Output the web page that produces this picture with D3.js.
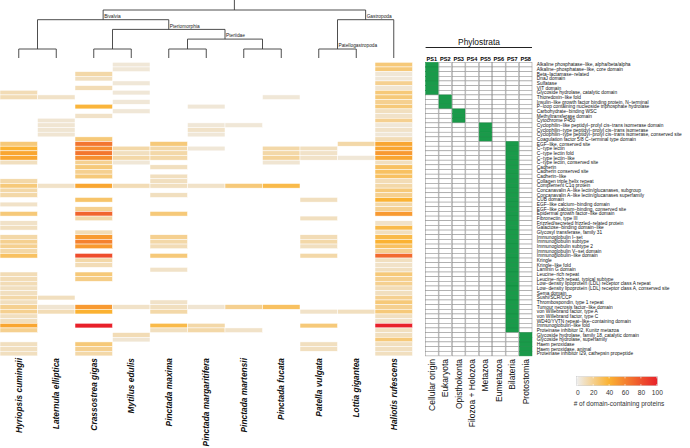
<!DOCTYPE html>
<html><head><meta charset="utf-8">
<script src="https://cdn.jsdelivr.net/npm/d3@7"></script>
<style>body{margin:0;background:#fff}svg{display:block;font-family:"Liberation Sans",Arial,sans-serif}</style>
</head><body>
<script>
const species = ["Hyriopsis cumingii","Laternula elliptica","Crassostrea gigas","Mytilus edulis","Pinctada maxima","Pinctada margaritifera","Pinctada martensii","Pinctada fucata","Patella vulgata","Lottia gigantea","Haliotis rufescens"];

const treeData = {name:"", children:[
  {name:"Bivalvia", children:[
    {name:"", children:[{name:"Hyriopsis cumingii"},{name:"Laternula elliptica"}]},
    {name:"Pteriomorphia", children:[
      {name:"", children:[{name:"Crassostrea gigas"},{name:"Mytilus edulis"}]},
      {name:"Pteriidae", children:[
        {name:"", children:[{name:"Pinctada maxima"},{name:"Pinctada margaritifera"}]},
        {name:"", children:[{name:"Pinctada martensii"},{name:"Pinctada fucata"}]}
      ]}
    ]}
  ]},
  {name:"Gastropoda", children:[
    {name:"Patellogastropoda", children:[{name:"Patella vulgata"},{name:"Lottia gigantea"}]},
    {name:"Haliotis rufescens"}
  ]}
]};

const domains = [
"Alkaline phosphatase−like, alpha/beta/alpha",
"Alkaline−phosphatase−like, core domain",
"Beta−lactamase−related",
"DnaJ domain",
"Sulfatase",
"VIT domain",
"Glycoside hydrolase, catalytic domain",
"Thioredoxin−like fold",
"Insulin−like growth factor binding protein, N−terminal",
"P−loop containing nucleoside triphosphate hydrolase",
"Carbohydrate−binding WSC",
"Methyltransferase domain",
"Cytochrome P450",
"Cyclophilin−like peptidyl−prolyl cis−trans isomerase domain",
"Cyclophilin−type peptidyl−prolyl cis−trans isomerase",
"Cyclophilin−type peptidyl−prolyl cis−trans isomerase, conserved site",
"Coagulation factor 5/8 C−terminal type domain",
"EGF−like, conserved site",
"C−type lectin",
"C−type lectin fold",
"C−type lectin−like",
"C−type lectin, conserved site",
"Cadherin",
"Cadherin conserved site",
"Cadherin−like",
"Collagen triple helix repeat",
"Complement C1q protein",
"Concanavalin A−like lectin/glucanases, subgroup",
"Concanavalin A−like lectin/glucanases superfamily",
"CUB domain",
"EGF−like calcium−binding domain",
"EGF−like calcium−binding, conserved site",
"Epidermal growth factor−like domain",
"Fibronectin, type III",
"Frizzled/secreted frizzled−related protein",
"Galactose−binding domain−like",
"Glycosyl transferase, family 31",
"Immunoglobulin I−set",
"Immunoglobulin subtype",
"Immunoglobulin subtype 2",
"Immunoglobulin V−set domain",
"Immunoglobulin−like domain",
"Kringle",
"Kringle−like fold",
"Laminin G domain",
"Leucine−rich repeat",
"Leucine−rich repeat, typical subtype",
"Low−density lipoprotein (LDL) receptor class A repeat",
"Low−density lipoprotein (LDL) receptor class A, conserved site",
"Sema domain",
"Sushi/SCR/CCP",
"Thrombospondin, type 1 repeat",
"Tumour necrosis factor−like domain",
"von Willebrand factor, type A",
"von Willebrand factor, type C",
"WD40/YVTN repeat−like−containing domain",
"Immunoglobulin−like fold",
"Proteinase inhibitor I2, Kunitz metazoa",
"Glycoside hydrolase, family 18, catalytic domain",
"Glycoside hydrolase, superfamily",
"Haem peroxidase",
"Haem peroxidase, animal",
"Proteinase inhibitor I29, cathepsin propeptide"];

const psCodes = ["PS1","PS2","PS3","PS4","PS5","PS6","PS7","PS8"];
const phylostrata = ["Cellular origin","Eukaryota","Opisthokonta","Filozoa + Holozoa","Metazoa","Eumetazoa","Bilateria","Protostomia"];

// phylostratum (PS code) of each domain row
const domainPS = ["PS1","PS1","PS1","PS1","PS1","PS1","PS1",
"PS2","PS2","PS2","PS3","PS3","PS3","PS5","PS5","PS5","PS5",
"PS7","PS7","PS7","PS7","PS7","PS7","PS7","PS7","PS7","PS7",
"PS7","PS7","PS7","PS7","PS7","PS7","PS7","PS7","PS7","PS7",
"PS7","PS7","PS7","PS7","PS7","PS7","PS7","PS7","PS7","PS7",
"PS7","PS7","PS7","PS7","PS7","PS7","PS7","PS7","PS7","PS7","PS7",
"PS8","PS8","PS8","PS8","PS8"];

// number of domain-containing proteins; one row per domain, columns in species order
const counts = [
[0,0,0,5,0,0,0,0,0,0,25],
[0,0,0,5,0,0,0,0,0,0,25],
[0,0,15,0,0,0,0,0,0,0,5],
[0,0,10,0,0,0,0,0,0,0,5],
[0,0,0,5,0,0,0,0,0,0,20],
[0,0,12,0,0,0,0,0,0,0,6],
[12,0,0,5,0,0,0,0,0,0,25],
[12,8,0,0,0,0,0,5,0,0,25],
[0,0,0,5,0,0,0,0,0,0,20],
[0,0,38,0,0,5,0,0,0,0,25],
[0,0,0,5,0,0,0,0,0,0,10],
[0,0,8,0,0,0,0,0,0,0,8],
[0,6,0,0,0,0,0,0,0,0,20],
[0,6,0,0,0,5,5,0,0,0,5],
[0,6,0,0,0,8,0,0,0,0,8],
[0,6,0,0,0,5,0,0,0,0,5],
[0,0,25,0,0,0,0,0,0,0,12],
[25,0,65,0,25,0,0,0,0,15,45],
[40,0,55,15,15,5,0,15,10,0,45],
[45,0,65,10,15,0,0,15,8,0,50],
[45,0,55,15,15,0,0,18,8,5,45],
[10,0,20,5,0,0,0,6,0,0,10],
[0,0,25,0,10,0,0,0,0,0,30],
[0,0,20,0,0,0,0,0,0,0,30],
[0,0,25,0,10,0,0,0,0,0,30],
[15,0,0,0,10,0,0,0,0,0,12],
[25,8,45,12,10,8,25,35,0,0,15],
[15,0,0,0,0,0,0,0,0,0,25],
[15,0,0,0,10,0,0,0,0,0,20],
[0,0,28,0,0,0,0,0,10,0,40],
[8,0,0,0,0,0,0,0,0,0,15],
[0,0,20,0,0,0,0,0,0,0,20],
[25,0,72,0,25,0,0,0,0,0,50],
[0,0,15,0,0,0,0,0,10,0,0],
[8,0,0,0,0,0,0,0,0,0,8],
[10,0,0,0,0,0,0,0,0,0,35],
[0,0,12,0,0,0,0,0,0,0,10],
[15,0,50,0,20,0,0,0,12,0,35],
[20,0,60,0,15,0,0,0,15,0,40],
[20,0,50,0,12,0,0,0,10,0,30],
[15,0,0,0,0,0,0,0,0,0,20],
[30,0,82,0,25,0,0,0,15,0,70],
[0,0,15,0,0,0,0,0,0,0,10],
[0,0,12,0,0,0,0,0,0,0,8],
[0,0,0,0,8,0,0,0,0,0,10],
[12,0,25,0,0,0,0,0,0,0,25],
[12,0,22,0,0,0,0,0,0,0,20],
[12,0,0,0,0,0,0,0,0,0,20],
[10,0,0,0,0,0,0,0,0,0,12],
[10,0,0,0,0,0,0,0,0,0,10],
[15,10,0,0,0,0,0,0,0,0,20],
[10,0,0,0,8,0,0,0,0,0,25],
[20,6,50,8,10,6,20,30,0,0,20],
[20,12,40,0,15,0,0,0,8,10,25],
[10,0,0,0,0,0,0,0,0,0,10],
[10,0,0,0,0,0,0,0,0,0,8],
[45,0,100,0,35,15,0,0,25,0,100],
[20,0,0,0,10,15,8,0,0,0,10],
[0,0,0,12,0,0,0,0,0,0,10],
[0,0,0,6,0,0,0,0,0,0,25],
[10,0,25,0,0,0,0,0,10,0,10],
[10,0,20,0,0,0,0,0,10,0,10],
[10,0,15,0,0,0,0,0,0,0,10]];

const legendTicks = [0,20,40,60,80,100];
const legendTitle = "# of domain-containing proteins";
const panelTitle = "Phylostrata";

// ---------------- drawing ----------------
const W = 690, H = 448;
const svg = d3.select("body").append("svg").attr("width", W).attr("height", H);

const x = d3.scaleBand().domain(species).range([0, 412.5]);
const y = d3.scaleBand().domain(domains).range([62.3, 355.9]);
const color = d3.scaleLinear().domain([0, 40, 100]).range(["#eeeeee", "#fbb232", "#e8212a"]).clamp(true);

// heatmap
const cells = [];
counts.forEach((row, i) => row.forEach((v, j) => { if (v > 0) cells.push({d: domains[i], s: species[j], v}); }));
svg.append("g").selectAll("rect").data(cells).join("rect")
  .attr("x", d => x(d.s)).attr("y", d => y(d.d))
  .attr("width", x.bandwidth()).attr("height", y.bandwidth())
  .attr("fill", d => color(d.v)).attr("stroke", "#fff").attr("stroke-width", 0.5);

// tree
const root = d3.hierarchy(treeData);
const leafY = 58;
root.eachAfter(n => {
  if (!n.children) { n.px = x(n.data.name) + x.bandwidth() / 2; }
  else { n.px = (n.children[0].px + n.children[n.children.length - 1].px) / 2; }
});
root.each(n => {
  if (!n.children) n.py = leafY;
  else if (n.depth === 0) n.py = 10;
  else if (n.children.every(c => !c.children)) n.py = 49;
  else n.py = 10 + n.depth * 9.7;
});
const tg = svg.append("g").attr("stroke", "#3a3a3a").attr("stroke-width", 0.9).attr("fill", "none");
tg.append("line").attr("x1", root.px).attr("x2", root.px).attr("y1", 0).attr("y2", root.py);
root.descendants().forEach(n => {
  if (n.children) {
    tg.append("line").attr("x1", n.children[0].px).attr("x2", n.children[n.children.length - 1].px)
      .attr("y1", n.py).attr("y2", n.py);
  }
  if (n.parent) {
    tg.append("line").attr("x1", n.px).attr("x2", n.px).attr("y1", n.parent.py).attr("y2", n.py);
  }
});
svg.append("g").selectAll("text").data(root.descendants().filter(n => n.children && n.data.name)).join("text")
  .attr("x", n => n.px + 1).attr("y", n => n.py - 1.8)
  .attr("font-size", 4.8).attr("fill", "#222").text(n => n.data.name);

// species labels
svg.append("g").selectAll("text").data(species).join("text")
  .attr("transform", d => `translate(${x(d) + x.bandwidth() / 2},358) rotate(-90)`)
  .attr("text-anchor", "end").attr("dy", "0.35em")
  .attr("font-size", 8.4).attr("font-weight", "bold").attr("font-style", "italic").attr("fill", "#111")
  .text(d => d);

// phylostrata grid
const px = d3.scaleBand().domain(psCodes).range([425.6, 532]).paddingInner(0.06);
const pcells = [];
domains.forEach((d, i) => psCodes.forEach(c => pcells.push({d, c, on: domainPS[i] === c})));
svg.append("g").selectAll("rect").data(pcells).join("rect")
  .attr("x", d => px(d.c)).attr("y", d => y(d.d))
  .attr("width", px.bandwidth()).attr("height", y.bandwidth())
  .attr("fill", d => d.on ? "#1a9a4a" : "#fff")
  .attr("stroke", d => d.on ? "#138a3f" : "#8a8a8a").attr("stroke-width", 0.5);

svg.append("g").selectAll("text").data(psCodes).join("text")
  .attr("x", d => px(d) + px.bandwidth() / 2).attr("y", 60.6)
  .attr("text-anchor", "middle").attr("font-size", 5.6).attr("font-weight", "bold").text(d => d);

svg.append("text").attr("x", 479).attr("y", 44.5).attr("text-anchor", "middle")
  .attr("font-size", 8.4).attr("fill", "#111").text(panelTitle);
svg.append("line").attr("x1", 425.6).attr("x2", 532).attr("y1", 47.5).attr("y2", 47.5)
  .attr("stroke", "#222").attr("stroke-width", 1);

// domain labels
svg.append("g").selectAll("text").data(domains).join("text")
  .attr("x", 536.8).attr("y", d => y(d) + y.bandwidth() / 2).attr("dy", "0.35em")
  .attr("font-size", 4.8).attr("fill", "#111").text(d => d);

// phylostrata names
svg.append("g").selectAll("text").data(psCodes).join("text")
  .attr("transform", d => `translate(${px(d) + px.bandwidth() / 2},359) rotate(-90)`)
  .attr("text-anchor", "end").attr("dy", "0.35em")
  .attr("font-size", 8.5).attr("fill", "#111")
  .text((d, i) => phylostrata[i]);

// legend
const lx = d3.scaleLinear().domain([0, 100]).range([577.3, 656.8]);
const defs = svg.append("defs");
const grad = defs.append("linearGradient").attr("id", "lg");
d3.range(0, 101, 5).forEach(v => grad.append("stop").attr("offset", v + "%").attr("stop-color", color(v)));
svg.append("rect").attr("x", lx(0) - 0.6).attr("y", 376.7).attr("width", lx(100) - lx(0) + 1.2).attr("height", 9)
  .attr("fill", "url(#lg)").attr("stroke", "#bbb").attr("stroke-width", 0.4);
const lt = svg.append("g");
legendTicks.forEach(t => {
  lt.append("line").attr("x1", lx(t)).attr("x2", lx(t)).attr("y1", 376.7).attr("y2", 378.4).attr("stroke", "#fff").attr("stroke-width", 0.6);
  lt.append("line").attr("x1", lx(t)).attr("x2", lx(t)).attr("y1", 384).attr("y2", 385.7).attr("stroke", "#fff").attr("stroke-width", 0.6);
});
svg.append("g").attr("transform", "translate(0,385.7)")
  .call(d3.axisBottom(lx).tickValues(legendTicks).tickSize(0).tickPadding(4.5))
  .call(g => g.select(".domain").remove())
  .call(g => g.selectAll("text").attr("font-size", 6.6).attr("fill", "#333").attr("font-family", "Liberation Sans, Arial, sans-serif"));
svg.append("text").attr("x", 619).attr("y", 406).attr("text-anchor", "middle")
  .attr("font-size", 6.5).attr("fill", "#333").text(legendTitle);
</script>
</body></html>
